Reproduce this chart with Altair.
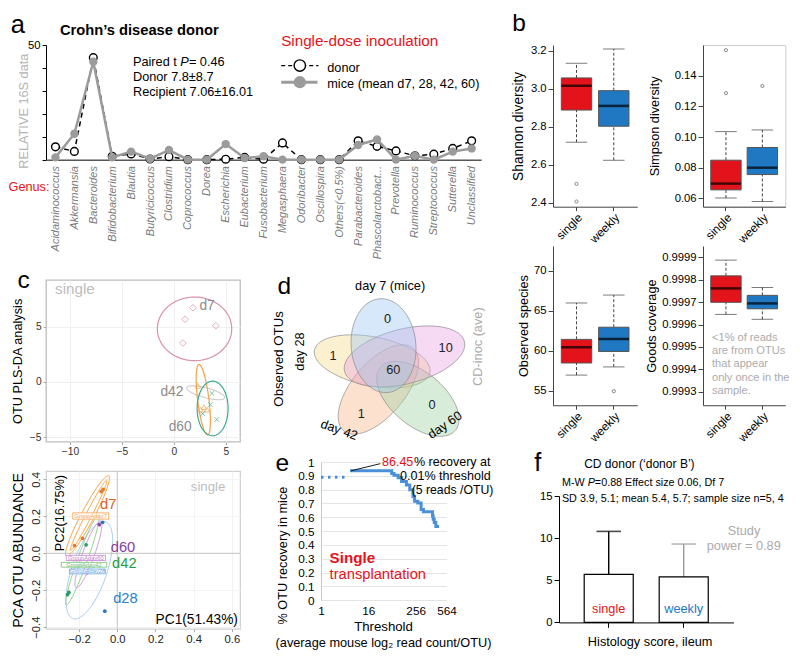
import numpy as np
import pandas as pd
import altair as alt

K = 0.98
F = "Liberation Sans"
RED = "#e3131b"
BLUE = "#1f78c1"

# ---------------- data ----------------
GENERA = ["Acidaminococcus", "Akkermansia", "Bacteroides", "Bifidobacterium", "Blautia",
          "Butyricicoccus", "Clostridium", "Coprococcus", "Dorea", "Escherichia",
          "Eubacterium", "Fusobacterium", "Megasphaera", "Odoribacter", "Oscillospira",
          "Others(<0.5%)", "Parabacteroides", "Phascolarctobact...", "Prevotella",
          "Ruminococcus", "Streptococcus", "Sutterella", "Unclassified"]
DONOR = [5.6, 3.6, 44.5, 1.5, 2.5, 0.3, 1.3, 0.0, 0.0, 0.2, 1.0, 0.2, 7.3, 0.0, 0.0, 0.0,
         8.2, 5.8, 3.8, 1.7, 2.4, 4.9, 8.2]
MICE = [1.0, 11.3, 42.7, 1.0, 3.5, 0.4, 4.2, 0.0, 0.0, 6.8, 0.7, 1.5, 0.0, 0.0, 0.0, 0.0,
        6.4, 8.8, 0.0, 1.7, 0.0, 3.5, 4.9]

GROUPS = ["single", "weekly"]
SHANNON = {"lo": [2.719, 2.624], "q1": [2.888, 2.803], "med": [3.016, 2.910],
           "q3": [3.057, 2.990], "hi": [3.134, 3.209]}
SHANNON_OUT = {"grp": ["single", "single"], "val": [2.50, 2.407]}
SIMPSON = {"lo": [0.0602, 0.0579], "q1": [0.0655, 0.0755], "med": [0.0696, 0.0800],
           "q3": [0.0849, 0.0932], "hi": [0.1036, 0.1047]}
SIMPSON_OUT = {"grp": ["single", "single", "weekly"], "val": [0.1568, 0.1287, 0.1334]}
OBSERVED = {"lo": [56.97, 57.99], "q1": [58.48, 59.92], "med": [60.45, 61.48],
            "q3": [61.43, 62.95], "hi": [65.98, 66.97]}
OBSERVED_OUT = {"grp": ["weekly"], "val": [54.96]}
GOODS = {"lo": [0.999645, 0.999623], "q1": [0.999699, 0.999670], "med": [0.999761, 0.999694],
         "q3": [0.999817, 0.999730], "hi": [0.999887, 0.999765]}
GOODS_OUT = {"grp": [], "val": []}

PLS_D7 = {"x": [1.84, 1.08, 4.04, 0.87], "y": [6.72, 5.68, 5.09, 3.52]}
PLS_D42 = {"x": [2.31, 2.57, 2.88, 3.19], "y": [-0.35, -2.51, -2.28, -2.51]}
PLS_D60 = {"x": [3.66, 3.51, 2.78, 4.13], "y": [-1.04, -2.04, -2.87, -3.40]}
# ellipse: centre, first semi-axis vector, second semi-axis vector (data units)
PLS_ELL = {
    "d7": [1.99, 4.81, 3.58, 0.0, 0.0, 2.88],
    "d28": [3.07, -0.98, 1.82, -0.46, -0.12, -0.43],
    "d42": [2.83, -1.61, -0.42, 3.19, 0.54, 0.064],
    "d60": [3.73, -2.40, 0.0, 2.47, 1.49, 0.0],
}
PLS_ELL_COL = {"d7": "#d98fae", "d28": "#d0d0d0", "d42": "#f2a24c", "d60": "#3daa8c"}

PCA_PTS = {
    "d7": {"x": [-0.074, -0.084, -0.182, -0.224], "y": [0.346, 0.334, 0.081, 0.042]},
    "d28": {"x": [-0.077, -0.065], "y": [0.168, -0.313]},
    "d42": {"x": [-0.163, -0.188, -0.205, -0.253, -0.26], "y": [0.046, -0.06, -0.065, -0.212, -0.224]},
    "d60": {"x": [-0.094, -0.157], "y": [0.155, -0.104]},
}
PCA_PT_COL = {"d7": "#e6782a", "d28": "#2a78c0", "d42": "#2a9a6a", "d60": "#8b4aa8"}
PCA_ELL = {
    "d28": [-0.146, -0.092, 0.0856, 0.2615, 0.087, -0.031],
    "d42": [-0.182, -0.035, 0.085, 0.245, 0.024, -0.009],
    "d60": [-0.151, -0.006, 0.064, 0.181, 0.029, -0.0115],
    "d7o": [-0.156, 0.2016, 0.111, 0.218, 0.030, -0.016],
    "d7i": [-0.150, 0.205, 0.095, 0.190, 0.014, -0.007],
}
PCA_ELL_COL = {"d28": "#a8cdf0", "d42": "#96d08a", "d60": "#cf9ade", "d7o": "#f5a445", "d7i": "#f5a445"}
PCA_BOX_LAB = ["GroupAday28", "GroupAday42", "GroupAday60", "GroupAday7"]
PCA_BOX_X = [-0.156, -0.174, -0.164, -0.139]
PCA_BOX_Y = [-0.098, -0.062, -0.025, 0.202]
PCA_BOX_HW = [0.094, 0.119, 0.103, 0.094]
PCA_BOX_HH = [0.013, 0.013, 0.014, 0.017]
PCA_BOX_COL = ["#6aa8e4", "#72c276", "#c884d6", "#f5a050"]

VENN_CX = [52.2, 58.5, 98.8, 85.2, 63.8]
VENN_CY = [83.0, 111.7, 121.3, 78.0, 67.0]
VENN_A = [60, 55, 50, 63, 48]
VENN_B = [25, 27, 27, 28, 33]
VENN_ANG = [-11, 50, -40, 14, 95]
VENN_COL = ["#f6dc8f", "#f8b88a", "#9fd4a5", "#eaa5e0", "#9ec9f0"]
VENN_NUM = ["0", "10", "0", "1", "1", "60"]
VENN_NX = [67.8, 127.2, 113.2, 41.2, 12.2, 73.8]
VENN_NY = [39.7, 69.7, 128.0, 136.3, 78.0, 92.3]

E_DOT_X = [1, 5.1]
E_DOT_Y = [0.89, 0.89]
E_THR = [5.5, 63, 72, 92, 112, 149, 181, 218, 240, 290, 352, 403, 688, 714, 759, 833, 1010]
E_REC = [0.936, 0.917, 0.905, 0.886, 0.858, 0.834, 0.799, 0.751, 0.716, 0.704, 0.656,
         0.640, 0.609, 0.585, 0.562, 0.533, 0.533]

F_MEAN = [5.7, 5.4]
F_SD = [5.1, 3.9]


# ---------------- helpers ----------------
def s(v):
    return round(float(v) * K, 2)


ONE = pd.DataFrame({"v": [0]})


def T(text, x, y, size=13, color="black", align="left", baseline="middle",
      angle=0, weight="normal", style="normal"):
    kw = dict(text=text, align=align, baseline=baseline, fontSize=s(size),
              color=color, fontWeight=weight, fontStyle=style, font=F)
    if angle:
        kw["angle"] = angle
    return alt.Chart(ONE).mark_text(**kw).encode(x=alt.value(s(x)), y=alt.value(s(y)))


def R(x, y, x2, y2, color="black", width=1.0, dash=None):
    kw = dict(color=color, strokeWidth=width)
    if dash:
        kw["strokeDash"] = dash
    return alt.Chart(ONE).mark_rule(**kw).encode(
        x=alt.value(s(x)), y=alt.value(s(y)), x2=alt.value(s(x2)), y2=alt.value(s(y2)))


def TD(text, x, y, XF, YF, size=13, color="black", align="center", baseline="middle",
       angle=0, weight="normal"):
    kw = dict(text=text, align=align, baseline=baseline, fontSize=s(size), color=color,
              fontWeight=weight, font=F)
    if angle:
        kw["angle"] = angle
    return alt.Chart(pd.DataFrame({"x": [x], "y": [y]})).mark_text(**kw).encode(
        x=XF("x"), y=YF("y"))


def ell_df(cx, cy, ux, uy, vx, vy, n=120):
    t = np.linspace(0, 2 * np.pi, n)
    return pd.DataFrame({"x": cx + ux * np.cos(t) + vx * np.sin(t),
                         "y": cy + uy * np.cos(t) + vy * np.sin(t),
                         "i": np.arange(n)})


def SP(w, h):
    return alt.Chart(ONE).mark_point(opacity=0).encode(
        x=alt.value(0), y=alt.value(0)).properties(width=s(w), height=s(h))


def place(panel, x, y):
    # nested concats have no size of their own in a flush layout, so spacers set the offset
    row = alt.hconcat(SP(x - 30, 1), panel, spacing=0, bounds="flush")
    return alt.vconcat(SP(1, y - 30), row, spacing=0, bounds="flush")


XPATH = "M-1,-1L1,1M-1,1L1,-1"

# ---------------- panel a ----------------
dfa = pd.concat([pd.DataFrame({"genus": GENERA, "val": DONOR, "series": "donor"}),
                 pd.DataFrame({"genus": GENERA, "val": MICE, "series": "mice"})])
XA = alt.X("genus:N", sort=GENERA, scale=alt.Scale(type="point", padding=0.5),
           axis=alt.Axis(title=None, labelAngle=270, labelFontStyle="italic", labelColor="#7a7a7a",
                         labelFontSize=s(11.2), labelPadding=s(6), ticks=False, domainColor="black"))
YA = alt.Y("val:Q", scale=alt.Scale(domain=[0, 50], nice=False),
           axis=alt.Axis(values=[0, 10, 20, 30, 40, 50], labelExpr="datum.value == 50 ? '50' : ''",
                         tickSize=s(4), labelFontSize=s(11.5), labelPadding=s(2),
                         title="RELATIVE 16S data", titleColor="#b4b4b4", titleFontSize=s(13),
                         titleX=-s(23), titleY=s(67), titleAngle=270, titleAlign="center",
                         titleBaseline="middle"))
baseA = alt.Chart(dfa).encode(x=XA, y=YA)
donorA = baseA.transform_filter(alt.datum.series == "donor")
miceA = baseA.transform_filter(alt.datum.series == "mice")
ox, oy = 39, 38
panel_a = alt.layer(
    donorA.mark_line(color="black", strokeDash=[5, 4], strokeWidth=1.5),
    donorA.mark_circle(size=60, fill="white", stroke="black", strokeWidth=1.4, opacity=1),
    miceA.mark_line(color="#9b9b9b", strokeWidth=2.5),
    miceA.mark_circle(size=70, color="#9b9b9b", opacity=1),
    R(279 - ox, 59 - oy, 317 - ox, 59 - oy, dash=[4, 3], width=1.3),
    alt.Chart(ONE).mark_circle(size=130, fill="white", stroke="black", strokeWidth=1.4, opacity=1)
    .encode(x=alt.value(s(298 - ox)), y=alt.value(s(59 - oy))),
    R(279 - ox, 76 - oy, 316 - ox, 76 - oy, color="#9b9b9b", width=3),
    alt.Chart(ONE).mark_circle(size=150, color="#9b9b9b", opacity=1)
    .encode(x=alt.value(s(298 - ox)), y=alt.value(s(76 - oy))),
    T("donor", 326 - ox, 61.5 - oy),
    T("mice (mean d7, 28, 42, 60)", 326 - ox, 77.5 - oy),
    T("Single-dose inoculation", 279 - ox, 34 - oy, size=15.5, color=RED),
    T("Crohn’s disease donor", 53.3 - ox, 23.5 - oy, size=15, weight="bold"),
    T("a", 3 - ox, 26 - oy, size=26, baseline="alphabetic"),
    T("Paired t", 127.7 - ox, 55.5 - oy),
    T("P", 127.7 - ox + 48.4, 55.5 - oy, style="italic"),
    T("= 0.46", 127.7 - ox + 57.1, 55.5 - oy),
    T("Donor 7.8±8.7", 127.7 - ox, 71 - oy),
    T("Recipient 7.06±16.01", 127.7 - ox, 86.3 - oy),
    T("Genus:", 0.7 - ox, 182.5 - oy, color=RED),
).properties(width=s(444), height=s(117))


# ---------------- panel b ----------------
def boxplot(stats, outl, domain, ticks, fmt, w, h, title, tsize, tpad, extra=(), stroke=None):
    df = pd.DataFrame({"grp": GROUPS, **stats})
    X = alt.X("grp:N", sort=GROUPS, scale=alt.Scale(paddingInner=0, paddingOuter=0.13),
              axis=alt.Axis(title=None, labelAngle=315, labelFontSize=s(12), tickSize=s(4),
                            labelPadding=s(1), domainColor="#444", tickColor="#444"))
    ysc = alt.Scale(domain=domain, nice=False, zero=False)
    yax = alt.Axis(values=ticks, format=fmt, title=title, titleFontSize=s(tsize),
                   titlePadding=s(tpad), labelFontSize=s(11.5), tickSize=s(5),
                   domainColor="#444", tickColor="#444", labelPadding=s(2))

    def Y(f):
        return alt.Y(f + ":Q", scale=ysc, axis=yax)

    base = alt.Chart(df).encode(x=X)
    layers = [
        base.mark_rule(color="#444", strokeDash=[3, 2]).encode(y=Y("lo"), y2="q1:Q"),
        base.mark_rule(color="#444", strokeDash=[3, 2]).encode(y=Y("q3"), y2="hi:Q"),
        base.mark_tick(color="#444", size=s(22), thickness=1).encode(y=Y("lo")),
        base.mark_tick(color="#444", size=s(22), thickness=1).encode(y=Y("hi")),
        base.mark_bar(size=s(31), stroke="#555", strokeWidth=1).encode(
            y=Y("q1"), y2="q3:Q",
            color=alt.Color("grp:N", scale=alt.Scale(domain=GROUPS, range=[RED, BLUE]), legend=None)),
        base.mark_tick(color="black", size=s(31), thickness=2.5).encode(y=Y("med")),
    ]
    if len(outl["val"]):
        layers.append(alt.Chart(pd.DataFrame(outl)).mark_point(
            shape="circle", size=10, color="#555", strokeWidth=1).encode(x=X, y=Y("val")))
    layers += list(extra)
    ch = alt.layer(*layers).properties(width=s(w), height=s(h))
    if stroke:
        ch = ch.properties(view=alt.ViewBackground(stroke=stroke, strokeWidth=1))
    return ch


shannon = boxplot(SHANNON, SHANNON_OUT, [2.38, 3.23], [2.4, 2.6, 2.8, 3.0, 3.2], ".1f", 86, 165,
                  "Shannon diversity", 14, 5,
                  extra=[T("b", 515 - 556.5, 24 - 38, size=25, baseline="alphabetic")])
simpson = boxplot(SIMPSON, SIMPSON_OUT, [0.0545, 0.1602], [0.06, 0.08, 0.10, 0.12, 0.14], ".2f",
                  84, 165, "Simpson diversity", 13, 13, stroke="#d0d0d0")
observed = boxplot(OBSERVED, OBSERVED_OUT, [53.2, 73.1], [55, 60, 65, 70], "d", 86, 162.5,
                   "Observed species", 13, 3)
goods_txt = ["<1% of reads", "are from OTUs", "that appear", "only once in the", "sample."]
goods = boxplot(GOODS, GOODS_OUT, [0.99924, 0.99995],
                [0.9993, 0.9994, 0.9995, 0.9996, 0.9997, 0.9998, 0.9999], ".4f", 84, 162.5,
                "Goods coverage", 13, 3,
                extra=[T(t, 9.2, 94.3 + 13.3 * k, size=11.3, color="#ababab")
                       for k, t in enumerate(goods_txt)])

# ---------------- panel c (PLS-DA) ----------------
AX_PLS_X = alt.Axis(values=[-10, -5, 0, 5], grid=True, gridColor="#f0f0f0", domain=False,
                    tickSize=s(3), tickColor="#aaa", labelColor="#333", labelFontSize=s(10.5),
                    labelPadding=s(2), title=None)
AX_PLS_Y = alt.Axis(values=[-5, 0, 5], grid=True, gridColor="#f0f0f0", domain=False,
                    tickSize=s(3), tickColor="#aaa", labelColor="#333", labelFontSize=s(10.5),
                    labelPadding=s(2), title="OTU PLS-DA analysis", titleFontSize=s(13),
                    titlePadding=s(5))


def XP(f):
    return alt.X(f + ":Q", scale=alt.Scale(domain=[-12.31, 6.37], nice=False, zero=False), axis=AX_PLS_X)


def YP(f):
    return alt.Y(f + ":Q", scale=alt.Scale(domain=[-5.41, 9.23], nice=False, zero=False), axis=AX_PLS_Y)


pls_layers = []
for key in ["d7", "d28", "d42", "d60"]:
    pls_layers.append(alt.Chart(ell_df(*PLS_ELL[key])).mark_line(
        color=PLS_ELL_COL[key], strokeWidth=1.2).encode(x=XP("x"), y=YP("y"), order="i:Q"))
pls_layers += [
    alt.Chart(pd.DataFrame(PLS_D7)).mark_point(shape="diamond", size=45, filled=False,
                                               color="#d98fae", strokeWidth=1).encode(x=XP("x"), y=YP("y")),
    alt.Chart(pd.DataFrame(PLS_D42)).mark_point(shape="triangle-up", size=30, filled=False,
                                                color="#f2a24c", strokeWidth=1).encode(x=XP("x"), y=YP("y")),
    alt.Chart(pd.DataFrame(PLS_D60)).mark_point(shape=XPATH, size=22, filled=False,
                                                color="#3daa8c", strokeWidth=1).encode(x=XP("x"), y=YP("y")),
    TD("d7", 3.2, 6.92, XP, YP, size=14, color="#8c8c8c"),
    TD("d42", -0.19, -0.95, XP, YP, size=14, color="#8c8c8c"),
    TD("d60", 0.6, -4.05, XP, YP, size=14, color="#8c8c8c"),
    TD("single", -11.44, 8.43, XP, YP, size=15.5, color="#bdbdbd", align="left"),
    T("c", 10 - 39, 285 - 277, size=25, baseline="alphabetic"),
]
pls = alt.layer(*pls_layers).properties(width=s(198), height=s(165),
                                        view=alt.ViewBackground(stroke="#bdbdbd", strokeWidth=1.3))

# ---------------- panel c (PCA) ----------------
AX_PCA_X = alt.Axis(values=[-0.2, 0, 0.2, 0.4, 0.6], format=".1f", grid=True, gridColor="#f3f3f3",
                    domain=False, tickSize=s(3), tickColor="#aaa", labelColor="#222",
                    labelFontSize=s(11.5), labelPadding=s(2), title=None)
AX_PCA_Y = alt.Axis(values=[-0.4, -0.2, 0, 0.2, 0.4], format=".1f", grid=True, gridColor="#f3f3f3",
                    domain=False, tickSize=s(3), tickColor="#aaa", labelColor="#222",
                    labelFontSize=s(11.5), labelPadding=s(2), labelAngle=270, labelAlign="center",
                    labelBaseline="bottom", title="PCA OTU ABUNDANCE", titleFontSize=s(14.5),
                    titlePadding=s(5))


def XC(f):
    return alt.X(f + ":Q", scale=alt.Scale(domain=[-0.373, 0.643], nice=False, zero=False), axis=AX_PCA_X)


def YC(f):
    return alt.Y(f + ":Q", scale=alt.Scale(domain=[-0.4085, 0.4456], nice=False, zero=False), axis=AX_PCA_Y)


zero = pd.DataFrame({"z": [0.0]})
pca_layers = [
    alt.Chart(zero).mark_rule(color="#c4c4c4", strokeWidth=1).encode(x=XC("z")),
    alt.Chart(zero).mark_rule(color="#c4c4c4", strokeWidth=1).encode(y=YC("z")),
]
for key in ["d28", "d42", "d60", "d7o", "d7i"]:
    pca_layers.append(alt.Chart(ell_df(*PCA_ELL[key])).mark_line(
        color=PCA_ELL_COL[key], strokeWidth=1).encode(x=XC("x"), y=YC("y"), order="i:Q"))
for key in ["d28", "d42", "d60", "d7"]:
    pca_layers.append(alt.Chart(pd.DataFrame(PCA_PTS[key])).mark_circle(
        size=14, color=PCA_PT_COL[key], opacity=1).encode(x=XC("x"), y=YC("y")))
for lab, bx, by, hw, hh, col in zip(PCA_BOX_LAB, PCA_BOX_X, PCA_BOX_Y, PCA_BOX_HW, PCA_BOX_HH, PCA_BOX_COL):
    bdf = pd.DataFrame({"x": [bx - hw], "x2": [bx + hw], "y": [by - hh], "y2": [by + hh]})
    pca_layers.append(alt.Chart(bdf).mark_rect(fill="white", fillOpacity=0.85, stroke=col,
                                               strokeWidth=0.8).encode(x=XC("x"), x2="x2:Q",
                                                                       y=YC("y"), y2="y2:Q"))
    pca_layers.append(TD(lab, bx, by, XC, YC, size=5.9, color=col))
pca_layers += [
    TD("d7", -0.047, 0.26, XC, YC, size=15, color="#e0601a"),
    TD("d60", 0.03, 0.027, XC, YC, size=15, color="#8a3ea0"),
    TD("d42", 0.037, -0.057, XC, YC, size=15, color="#22a046"),
    TD("d28", 0.043, -0.249, XC, YC, size=15, color="#2a7fc8"),
    TD("single", 0.566, 0.361, XC, YC, size=13.5, color="#bdbdbd", align="right"),
    TD("PC2(16.75%)", -0.30, 0.2175, XC, YC, size=13, angle=270),
    TD("PC1(51.43%)", 0.632, -0.382, XC, YC, size=14, align="right", baseline="alphabetic"),
]
pca = alt.layer(*pca_layers).properties(width=s(198), height=s(161),
                                        view=alt.ViewBackground(stroke="#cfcfcf", strokeWidth=1.2))

# ---------------- panel d (Venn) ----------------
XV = lambda f: alt.X(f + ":Q", scale=alt.Scale(domain=[0, 128], nice=False, zero=False), axis=None)
YV = lambda f: alt.Y(f + ":Q", scale=alt.Scale(domain=[0, 140], nice=False, zero=False, reverse=True), axis=None)
venn_layers = []
for cx, cy, a, b, ang, col in zip(VENN_CX, VENN_CY, VENN_A, VENN_B, VENN_ANG, VENN_COL):
    th = np.deg2rad(ang)
    edf = ell_df(cx, cy, a * np.cos(th), -a * np.sin(th), -b * np.sin(th), -b * np.cos(th))
    venn_layers.append(alt.Chart(edf).mark_line(fill=col, fillOpacity=0.42, stroke="#8a8a8a",
                                                strokeWidth=0.7).encode(x=XV("x"), y=YV("y"), order="i:Q"))
venn_layers.append(alt.Chart(pd.DataFrame({"x": VENN_NX, "y": VENN_NY, "n": VENN_NUM}))
                   .mark_text(fontSize=s(13), font=F, color="#222")
                   .encode(x=XV("x"), y=YV("y"), text="n:N"))
venn_layers += [
    TD("day 7 (mice)", 70.5, 6.3, XV, YV, size=13),
    TD("CD-inoc (ave)", 159.8, 68, XV, YV, size=13, color="#ababab", angle=270),
    TD("Observed OTUs", -42.8, 80.5, XV, YV, size=13.5, angle=270),
    TD("day 28", -21.2, 73, XV, YV, size=13, angle=270),
    TD("day 42", 18.5, 153, XV, YV, size=13, angle=20),
    TD("day 60", 126.5, 148, XV, YV, size=13, angle=325),
    T("d", -44.5, 14, size=25, baseline="alphabetic"),
]
venn = alt.layer(*venn_layers).properties(width=s(128), height=s(140))

# ---------------- panel e ----------------
XMAX = 2 ** 10.6
AX_E_X = alt.Axis(values=[1, 16, 256, XMAX],
                  labelExpr="datum.value > 1000 ? '564' : format(datum.value, 'd')",
                  grid=False, domain=False, ticks=False, labelFontSize=s(12), labelPadding=s(5),
                  labelOverlap=False, labelFlush=False, title=None)
AX_E_Y = alt.Axis(values=[round(0.1 * k, 1) for k in range(11)],
                  labelExpr="datum.value == 0 ? '0' : datum.value == 1 ? '1' : format(datum.value, '.1f')",
                  grid=True, gridColor="#e4e4e4", domainColor="#c8c8c8", ticks=False,
                  labelFontSize=s(12), labelPadding=s(7), title="% OTU recovery in mice",
                  titleFontSize=s(13), titleX=-s(39.5), titleY=s(95), titleAngle=270,
                  titleAlign="center", titleBaseline="middle")
XE = lambda f: alt.X(f + ":Q", scale=alt.Scale(type="log", base=2, domain=[1, XMAX], nice=False), axis=AX_E_X)
YE = lambda f: alt.Y(f + ":Q", scale=alt.Scale(domain=[0, 1], nice=False), axis=AX_E_Y)
panel_e = alt.layer(
    alt.Chart(pd.DataFrame({"x": E_DOT_X, "y": E_DOT_Y})).mark_line(
        color="#4a90d9", strokeWidth=3, strokeDash=[2.5, 4.5]).encode(x=XE("x"), y=YE("y")),
    alt.Chart(pd.DataFrame({"x": E_THR, "y": E_REC})).mark_line(
        color="#4a90d9", strokeWidth=3, interpolate="step-after").encode(x=XE("x"), y=YE("y")),
    R(60.5, 1.7, 30.5, 9, width=0.9),
    T("86.45", 62.2, 0, size=12.8, color=RED),
    T("% recovery at", 94.8, 0, size=12.8),
    T("0.01% threshold", 80.7, 14.4, size=12.8),
    T("(5 reads /OTU)", 92.5, 29, size=12.5),
    T("Single", 8.8, 98.4, size=15.5, color=RED, weight="bold"),
    T("transplantation", 8.8, 115.7, size=15, color=RED),
    T("Threshold", 63.8, 168.4, size=13.5, align="center"),
    T("(average mouse log₂ read count/OTU)", 63.8, 185, size=13, align="center"),
    T("e", -46.5, 8.7, size=25, baseline="alphabetic"),
).properties(width=s(128), height=s(141))

# ---------------- panel f ----------------
dff = pd.DataFrame({"grp": GROUPS, "mean": F_MEAN,
                    "top": [m + d for m, d in zip(F_MEAN, F_SD)], "ly": [1.55, 1.55]})
XF = alt.X("grp:N", sort=GROUPS, scale=alt.Scale(paddingInner=0.346, paddingOuter=0.336),
           axis=alt.Axis(title=None, labels=False, tickSize=s(5), domainColor="black"))
AX_F_Y = alt.Axis(values=[0, 5, 10, 15], title=None, tickSize=s(5), labelFontSize=s(11.5),
                  labelPadding=s(2))
YF = lambda f: alt.Y(f + ":Q", scale=alt.Scale(domain=[0, 15], nice=False), axis=AX_F_Y)
baseF = alt.Chart(dff).encode(x=XF)
fl = []
for g, ecol, tcol in [("single", "black", RED), ("weekly", "#9a9a9a", BLUE)]:
    sub = baseF.transform_filter(alt.datum.grp == g)
    fl += [
        sub.mark_rule(color=ecol, strokeWidth=1.4).encode(y=YF("mean"), y2="top:Q"),
        sub.mark_tick(color=ecol, size=s(25), thickness=1.6).encode(y=YF("top")),
        sub.mark_bar(fill="white", stroke="black", strokeWidth=1.2).encode(y=YF("mean")),
        sub.mark_text(fontSize=s(13), font=F, color=tcol).encode(y=YF("ly"), text="grp:N"),
    ]
fl += [
    T("f", -25.3, -25.3, size=26, baseline="alphabetic"),
    T("CD donor (‘donor B’)", 82, -32.3, size=12.3, align="center"),
    T("M-W ", 3, -13.3, size=11),
    T("P", 3 + 26.3, -13.3, size=11, style="italic"),
    T("=0.88 Effect size 0.06, Df 7", 3 + 33.6, -13.3, size=11),
    T("SD 3.9, 5.1; mean 5.4, 5.7; sample size n=5, 4", 3, 2.7, size=11),
    T("Study", 188.8, 35.7, size=13, color="#ababab", align="center"),
    T("power = 0.89", 188.5, 50.7, size=13, color="#ababab", align="center"),
    T("Histology score, ileum", 93, 149, size=13, align="center"),
]
panel_f = alt.layer(*fl).properties(width=s(178), height=s(129))

# ---------------- layout ----------------
placed = [
    place(panel_a, 39, 38),
    place(shannon, 556.5, 38),
    place(simpson, 709.5, 38),
    place(observed, 556.5, 243),
    place(goods, 709.5, 243),
    place(pls, 39, 277),
    place(pca, 39, 472),
    place(venn, 319.5, 277),
    place(panel_e, 319.5, 463.3),
    place(panel_f, 562, 498.3),
]

chart = alt.hconcat(*placed, spacing=0, bounds="flush").properties(
    padding={"top": 3, "left": 0, "right": 0, "bottom": 0}, background="white"
).configure(font=F).configure_view(stroke=None).configure_axis(
    labelFont=F, titleFont=F, titleFontWeight="normal", labelColor="black", titleColor="black",
    domainColor="black", tickColor="black", grid=False
)

chart.save("out.html", embed_options={"renderer": "svg", "actions": False})
